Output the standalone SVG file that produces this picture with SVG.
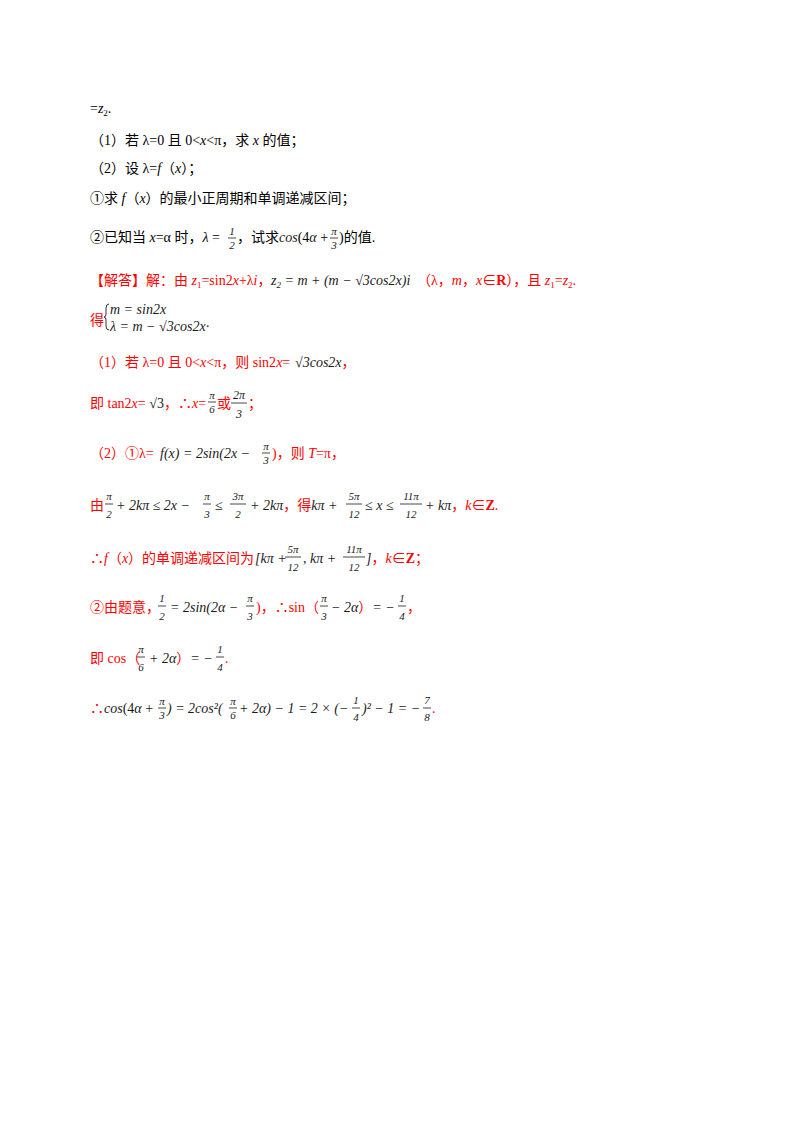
<svg xmlns="http://www.w3.org/2000/svg" width="800" height="1132" viewBox="0 0 800 1132">
<style>
text{font-family:"Liberation Serif","Noto Sans CJK SC",serif;font-size:14px;fill:#000}
.r{fill:#ff0000}
.m{font-style:italic;fill:#1a1a1a}
.f{font-size:11px;text-anchor:middle;fill:#1a1a1a;font-style:italic}
.fb{font-size:12px}
line{stroke:#1a1a1a;stroke-width:0.8}
</style>
<rect width="800" height="1132" fill="#fff"/>
<g id="question">
<text x="90" y="113">=<tspan font-style="italic">z</tspan><tspan font-size="9" dy="3">2</tspan><tspan dy="-3">.</tspan></text>
<text x="90" y="145">（1）若 λ=0 且 0&lt;<tspan font-style="italic">x</tspan>&lt;π，求 <tspan font-style="italic">x</tspan> 的值；</text>
<text x="90" y="173">（2）设 λ=<tspan font-style="italic">f</tspan>（<tspan font-style="italic">x</tspan>）；</text>
<text x="90" y="203">①求 <tspan font-style="italic">f</tspan>（<tspan font-style="italic">x</tspan>）的最小正周期和单调递减区间；</text>
<text x="90" y="242">②已知当 <tspan font-style="italic">x</tspan>=α 时，<tspan font-style="italic">λ</tspan> =</text>
<text class="f" x="232" y="235">1</text><line x1="228" y1="238" x2="236" y2="238"/><text class="f" x="232" y="249">2</text>
<text x="237" y="242">，试求<tspan class="m">cos</tspan>(4<tspan class="m">α</tspan> +</text>
<text class="f" x="334" y="235">π</text><line x1="330" y1="238" x2="338" y2="238"/><text class="f" x="334" y="249">3</text>
<text x="339" y="242">)的值.</text>
</g>
<g id="answer">
<text class="r" x="90" y="285">【解答】解：由 <tspan font-style="italic">z</tspan><tspan font-size="9" dy="3">1</tspan><tspan dy="-3">=sin2</tspan><tspan font-style="italic">x</tspan>+λ<tspan font-style="italic">i</tspan>，</text>
<text x="271" y="285" class="m">z<tspan font-size="9" dy="3">2</tspan><tspan dy="-3"> = m + (m − √3cos2x)i</tspan></text>
<text class="r" x="417" y="285">（λ，<tspan font-style="italic">m</tspan>，<tspan font-style="italic">x</tspan>∈<tspan font-weight="bold">R</tspan>），且 <tspan font-style="italic">z</tspan><tspan font-size="9" dy="3">1</tspan><tspan dy="-3">=</tspan><tspan font-style="italic">z</tspan><tspan font-size="9" dy="3">2</tspan><tspan dy="-3">.</tspan></text>
<text class="r" x="90" y="325">得</text>
<path d="M109,304 q-3,0 -3,4 v6 q0,3 -2,3 q2,0 2,3 v6 q0,4 3,4" fill="none" stroke="#1a1a1a" stroke-width="0.9"/>
<text class="m" x="110" y="314">m = sin2x</text>
<text class="m" x="110" y="331">λ = m − √3cos2x·</text>

<text class="r" x="90" y="367">（1）若 λ=0 且 0&lt;<tspan font-style="italic">x</tspan>&lt;π，则 sin2<tspan font-style="italic">x</tspan>=</text>
<text class="m" x="295" y="367">√3cos2x<tspan class="r" font-style="normal">，</tspan></text>

<text class="r" x="90" y="408">即 tan2<tspan font-style="italic">x</tspan>= <tspan fill="#1a1a1a">√3</tspan>，∴<tspan font-style="italic">x</tspan>=</text>
<text class="f" x="212" y="399">π</text><line x1="208" y1="402" x2="216" y2="402"/><text class="f" x="212" y="413">6</text>
<text class="r" x="217" y="408">或</text>
<text class="f fb" x="239" y="399">2π</text><line x1="231" y1="403" x2="247" y2="403"/><text class="f fb" x="239" y="418">3</text>
<text class="r" x="248" y="408">；</text>

<text class="r" x="90" y="458">（2）①λ=</text>
<text class="m" x="160" y="458">f(x) = 2sin(2x −</text>
<text class="f" x="266" y="450">π</text><line x1="262" y1="453" x2="270" y2="453"/><text class="f" x="266" y="464">3</text>
<text class="r" x="272" y="458">)，则 <tspan font-style="italic">T</tspan>=π，</text>

<text class="r" x="90" y="510">由</text>
<text class="f" x="109" y="500">π</text><line x1="105" y1="504" x2="113" y2="504"/><text class="f" x="109" y="518">2</text>
<text class="m" x="116" y="510">+ 2kπ ≤ 2x −</text>
<text class="f" x="207" y="500">π</text><line x1="203" y1="504" x2="211" y2="504"/><text class="f" x="207" y="518">3</text>
<text class="m" x="215" y="510">≤</text>
<text class="f" x="238" y="500">3π</text><line x1="230" y1="504" x2="246" y2="504"/><text class="f" x="238" y="518">2</text>
<text class="m" x="250" y="510">+ 2kπ<tspan class="r" font-style="normal">，得</tspan>kπ +</text>
<text class="f" x="354" y="500">5π</text><line x1="346" y1="504" x2="362" y2="504"/><text class="f" x="354" y="518">12</text>
<text class="m" x="365" y="510">≤ x ≤</text>
<text class="f" x="411" y="500">11π</text><line x1="400" y1="504" x2="422" y2="504"/><text class="f" x="411" y="518">12</text>
<text class="m" x="425" y="510">+ kπ<tspan class="r" font-style="normal">，</tspan><tspan class="r">k</tspan><tspan class="r" font-style="normal">∈</tspan><tspan class="r" font-style="normal" font-weight="bold">Z</tspan><tspan class="r" font-style="normal">.</tspan></text>

<text class="r" x="90" y="563">∴<tspan font-style="italic">f</tspan>（<tspan font-style="italic">x</tspan>）的单调递减区间为</text>
<text class="m" x="255" y="563">[kπ +</text>
<text class="f" x="293" y="553">5π</text><line x1="285" y1="557" x2="301" y2="557"/><text class="f" x="293" y="571">12</text>
<text class="m" x="303" y="563">, kπ +</text>
<text class="f" x="354" y="553">11π</text><line x1="343" y1="557" x2="365" y2="557"/><text class="f" x="354" y="571">12</text>
<text class="m" x="366" y="563">]<tspan class="r" font-style="normal">，</tspan><tspan class="r">k</tspan><tspan class="r" font-style="normal">∈</tspan><tspan class="r" font-style="normal" font-weight="bold">Z</tspan><tspan class="r" font-style="normal">；</tspan></text>

<text class="r" x="90" y="612">②由题意，</text>
<text class="f" x="162" y="602">1</text><line x1="158" y1="606" x2="166" y2="606"/><text class="f" x="162" y="620">2</text>
<text class="m" x="170" y="612">= 2sin(2α −</text>
<text class="f" x="250" y="602">π</text><line x1="246" y1="606" x2="254" y2="606"/><text class="f" x="250" y="620">3</text>
<text class="r" x="256" y="612">)，∴sin（</text>
<text class="f" x="324" y="602">π</text><line x1="320" y1="606" x2="328" y2="606"/><text class="f" x="324" y="620">3</text>
<text class="m" x="331" y="612">− 2α<tspan class="r" font-style="normal">）</tspan>= −</text>
<text class="f" x="402" y="602">1</text><line x1="398" y1="606" x2="406" y2="606"/><text class="f" x="402" y="620">4</text>
<text class="r" x="407" y="612">，</text>

<text class="r" x="90" y="663">即 cos（</text>
<text class="f" x="141" y="653">π</text><line x1="137" y1="657" x2="145" y2="657"/><text class="f" x="141" y="671">6</text>
<text class="m" x="149" y="663">+ 2α<tspan class="r" font-style="normal">）</tspan>= −</text>
<text class="f" x="220" y="653">1</text><line x1="216" y1="657" x2="224" y2="657"/><text class="f" x="220" y="671">4</text>
<text class="r" x="225" y="663">.</text>

<text class="r" x="90" y="713">∴<tspan class="m">cos</tspan><tspan fill="#1a1a1a">(4</tspan><tspan class="m">α</tspan><tspan fill="#1a1a1a"> +</tspan></text>
<text class="f" x="162" y="705" font-size="10">π</text><line x1="158" y1="708" x2="166" y2="708"/><text class="f" x="162" y="719" font-size="10">3</text>
<text class="m" x="167" y="713">) = 2cos²(</text>
<text class="f" x="233" y="705" font-size="10">π</text><line x1="229" y1="708" x2="237" y2="708"/><text class="f" x="233" y="719" font-size="10">6</text>
<text class="m" x="239" y="713">+ 2α) − 1 = 2 × (−</text>
<text class="f" x="356" y="704">1</text><line x1="352" y1="708" x2="360" y2="708"/><text class="f" x="356" y="721">4</text>
<text class="m" x="362" y="713">)² − 1 = −</text>
<text class="f" x="427" y="704">7</text><line x1="423" y1="708" x2="431" y2="708"/><text class="f" x="427" y="721">8</text>
<text class="r" x="432" y="713">.</text>
</g>
</svg>
